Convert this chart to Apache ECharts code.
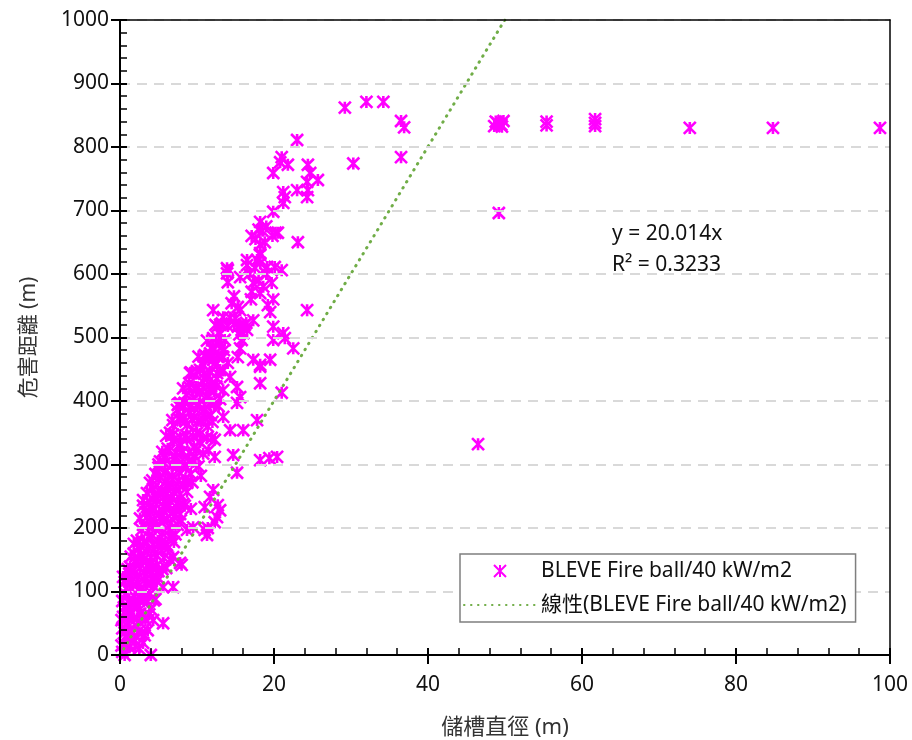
<!DOCTYPE html>
<html>
<head>
<meta charset="utf-8">
<script src="https://cdn.jsdelivr.net/npm/echarts@6/dist/echarts.min.js"></script>
<style>
html,body{margin:0;padding:0;background:#fff;}
#chart{width:912px;height:740px;}
</style>
</head>
<body>
<div id="chart"></div>
<script>
// ---- data: [tank diameter (m), hazard distance (m)] ----
const band0to100 = [
  [0.3,5],[0.6,0],[4,0],[0.5,18],[1.2,12],[0.8,30],[1.8,25],[2.5,10],[0.3,42],[1.3,40],[2.2,45],[2.8,35],[3.6,39],[1.0,50],
  [0.2,55],[0.9,62],[1.8,58],[2.6,65],[3.3,55],[4.3,55],[5.6,50],[0.5,75],[1.4,80],[2.3,78],[3.1,85],[4.0,72],
  [0.8,95],[1.9,92],[2.9,98],[3.8,95],[4.6,88],[1.2,68]
];
const band100to200 = [
  [0.4,123],[1.3,139],[0.8,105],[1.7,110],[2.6,105],[3.5,112],[4.4,108],[5.6,107],[6.9,107],[1.2,128],[2.2,125],
  [3.1,130],[4.0,128],[4.9,122],[2.0,145],[2.9,148],[3.8,142],[4.7,140],[5.5,135],[7.8,145],[6.5,150],
  [6.9,154],[1.8,160],[2.7,158],[3.6,165],[4.5,160],[5.4,165],[6.2,168],[2.2,180],[3.1,178],[4.0,185],[4.9,180],
  [5.8,175],[6.6,185],[2.8,197],[3.7,195],[4.6,198],[5.5,192],[6.4,197],[7.2,190],[8.0,142],
  [8.7,197],[9.5,201],[11.0,197],[11.3,189],[11.4,200]
];
const band200to300 = [
  [12.3,209],[3.0,205],[3.9,210],[4.8,205],[5.7,212],[6.6,208],[7.5,205],[3.3,225],[4.2,228],[5.1,222],[6.0,230],
  [6.9,225],[7.8,222],[3.0,244],[3.9,240],[4.8,245],[5.7,242],[6.6,248],[7.5,240],[8.4,235],[9.2,230],
  [11.0,233],[12.7,236],[13.0,228],[12.6,217],[11.7,249],
  [3.9,271],[4.3,262],[5.2,280],[4.6,285],[5.5,258],[6.4,265],[7.3,260],[8.2,268],[8.7,271],[5.0,295],[5.9,290],
  [6.8,282],[7.7,288],[8.6,295],[6.2,275],[7.5,298],[9.2,285],[10.5,282],[12.1,260],[15.2,287]
];
const band300to450 = [
  [5.8,312],[5.2,305],[6.5,350],[6.2,325],[7.1,310],[8.0,318],[8.9,305],[9.8,312],[6.9,338],[7.8,332],[8.7,340],
  [9.6,328],[10.4,335],[10.0,350],[12.3,312],[12.3,339],[11.5,322],[11.9,342],[14.7,315],[18.2,307],[19.4,310],[20.4,312],
  [7.4,386],[7.5,394],[6.9,362],[7.8,370],[8.7,362],[9.6,375],[10.5,368],[11.4,360],[8.2,390],[9.1,382],[10.0,392],
  [10.9,385],[11.8,378],[12.2,395],[14.3,354],[16.0,354],[17.8,370],[13.4,375],
  [7.8,397],[8.6,410],[9.5,405],[10.4,412],[11.3,406],[12.2,415],[13.0,403],[9.1,444],[9.0,428],[9.9,422],[10.8,430],
  [11.7,425],[12.6,435],[13.0,449],[10.4,449],[11.4,440],[15.2,422],[15.6,406],[18.2,428],[14.3,438],[21.0,413],
  [9.1,391],[11.7,397],[15.2,397]
];
const band450to650 = [
  [11.7,475],[10.6,458],[11.5,465],[12.4,460],[13.3,470],[12.0,485],[12.8,492],[13.5,480],[12.1,499],[11.2,470],
  [14.0,460],[17.3,465],[18.2,457],[19.5,465],[15.6,483],[15.3,469],[15.8,496],[16.0,507],[15.3,517],[17.3,527],
  [19.9,517],[19.9,496],[12.6,517],[13.0,507],[13.4,532],[14.3,531],[12.1,543],[14.5,554],[15.3,548],[15.6,543],
  [19.2,551],[19.5,540],[17.1,572],[18.2,570],[17.3,586],[18.6,580],[19.7,586],[14.0,606],[14.0,587],[15.6,595],
  [16.5,622],[17.8,622],[18.2,633],[16.5,614],[13.9,609],[13.9,601],[19.1,611],[20.1,611],[21.0,606],[18.2,617],
  [18.2,646],[21.2,507],[21.4,499],[22.5,483],[24.3,543],[12.1,480],[12.1,465],[9.3,444],[18.2,454],
  [15.5,505],[16.5,512],[16.2,520],[15.0,530],[17.0,560],[18.0,590],[19.0,600],[16.8,600],[17.5,610],[14.8,565],
  [13.0,520],[12.8,470],[13.2,485],[20.5,665],[19.9,560]
];
const band650up = [
  [18.2,630],[17.1,660],[18.0,670],[19.0,675],[20.2,665],[17.6,655],[18.8,650],[19.8,660],[18.2,682],[18.5,668],
  [23.1,650],[19.9,698],[21.2,712],[21.4,721],[21.2,729],[23.0,732],[24.3,721],[24.4,732],[24.3,745],[25.7,748],
  [24.7,759],[24.4,772],[19.9,759],[20.8,776],[21.0,784],[21.8,772],[23.0,811]
];
// densest part of the cloud (solid-looking magenta mass)
const denseCore = [
  [0.2,15],[1.1,17],[2.0,14],[3.0,19],[0.6,35],[1.5,33],[2.4,37],[3.2,31],
  [0.4,60],[1.3,63],[2.2,58],[3.0,61],[3.8,64],[0.3,85],[1.2,87],[2.0,83],[2.8,88],[3.6,84],[4.4,86],
  [0.6,115],[1.4,117],[2.3,113],[3.2,118],[4.0,114],[4.8,116],[1.0,135],[1.8,133],[2.6,137],[3.4,134],[4.2,136],[5.0,132],[6.0,137],
  [1.4,155],[2.3,152],[3.1,157],[4.0,154],[4.8,156],[5.7,153],[1.8,175],[2.6,172],[3.5,177],[4.3,174],[5.2,176],[6.1,173],[7.0,178],
  [2.6,215],[3.5,217],[4.4,213],[5.2,216],[6.1,214],[7.0,218],[7.9,212],[3.0,235],[3.8,232],[4.7,237],[5.6,234],[6.4,236],[7.3,233],[8.2,238],
  [3.5,255],[4.4,252],[5.2,257],[6.1,254],[7.0,256],[7.8,253],[8.7,257],[4.2,275],[5.0,277],[5.9,273],[6.8,276],[7.6,274],[8.5,278],[9.4,272],
  [5.0,300],[5.8,302],[6.7,298],[7.6,301],[8.4,299],[9.3,303],[10.2,297],[5.5,320],[6.4,322],[7.3,318],[8.1,321],[9.0,319],[9.9,323],[10.8,317],
  [6.0,345],[6.9,347],[7.8,343],[8.6,346],[9.5,344],[10.4,348],[11.3,342],[6.8,370],[7.6,372],[8.5,368],[9.4,371],[10.2,369],[11.1,373],[12.0,367],
  [7.6,395],[8.4,397],[9.3,393],[10.2,396],[11.0,394],[11.9,398],[12.8,392],[8.2,420],[9.0,422],[9.9,418],[10.8,421],[11.6,419],[12.5,423],[13.4,417],
  [9.2,445],[10.0,447],[10.9,443],[11.7,446],[12.6,444],[13.4,448],[10.2,470],[11.0,472],[11.8,468],[12.6,471],[13.4,469],
  [11.3,495],[12.1,497],[12.9,493],[13.6,496],[12.4,520],[13.2,522],[14.0,518],[14.8,521],[15.6,519],[16.4,523]
];
const farPoints = [
  [29.2,862],[32.0,871],[34.2,871],[36.5,841],[36.9,831],[36.5,784],[30.3,774],[46.5,332],[49.2,696],
  [48.6,833],[49.0,838],[49.5,835],[49.8,841],[48.8,840],[49.6,832],
  [55.4,834],[55.4,840],[61.7,833],[61.7,838],[61.7,844],[74.0,830],[84.8,830],[98.7,830]
];
const trendSlope = 20.014;
const rSquared = '0.3233';
const seriesName = 'BLEVE Fire ball/40 kW/m2';
const trendName = '線性(BLEVE Fire ball/40 kW/m2)';
const xTitle = '儲槽直徑 (m)';
const yTitle = '危害距離 (m)';

const allPoints = [].concat(band0to100, band100to200, band200to300, band300to450, band450to650, band650up, denseCore, farPoints);
const yMax = 1000;
const trendLine = [[0, 0], [yMax / trendSlope, yMax]];

const FONT = '"Noto Sans", "Noto Sans CJK TC", sans-serif';
const starPath = 'path://M0,0L10,10M10,0L0,10M5,0L5,10';

const chart = echarts.init(document.getElementById('chart'), null, {renderer: 'canvas'});

const xBase = {type: 'value', min: 0, max: 100, interval: 20};
const yBase = {type: 'value', min: 0, max: 1000, interval: 100};
const frameLine = {show: true, onZero: false, lineStyle: {color: '#000', width: 1.5}};

chart.setOption({
  animation: false,
  backgroundColor: '#fff',
  textStyle: {fontFamily: FONT},
  grid: {left: 120, right: 22, top: 20, bottom: 85, show: false, containLabel: false, outerBoundsMode: 'none'},
  xAxis: [
    Object.assign({}, xBase, {
      position: 'bottom',
      name: xTitle, nameLocation: 'middle', nameGap: 62,
      nameTextStyle: {fontSize: 22, color: '#333', fontFamily: FONT},
      axisLine: {show: true, onZero: false, lineStyle: {color: '#000', width: 2}},
      axisTick: {show: true, inside: false, length: 9, lineStyle: {color: '#000', width: 2}},
      minorTick: {show: false},
      axisLabel: {fontSize: 21, color: '#111', margin: 20, fontFamily: FONT},
      splitLine: {show: false}, z: 5
    }),
    Object.assign({}, xBase, {
      position: 'bottom',
      axisLine: {show: false, onZero: false},
      axisTick: {show: true, inside: true, length: 7, lineStyle: {color: '#000', width: 2}},
      minorTick: {show: true, splitNumber: 5, length: 7, lineStyle: {color: '#000', width: 1.5}},
      axisLabel: {show: false},
      splitLine: {show: false}, z: 5
    }),
    Object.assign({}, xBase, {
      position: 'top',
      axisLine: frameLine, axisTick: {show: false}, axisLabel: {show: false}, splitLine: {show: false}, z: 5
    })
  ],
  yAxis: [
    Object.assign({}, yBase, {
      position: 'left',
      name: yTitle, nameLocation: 'middle', nameGap: 80,
      nameTextStyle: {fontSize: 21, color: '#333', fontFamily: FONT},
      axisLine: {show: true, onZero: false, lineStyle: {color: '#000', width: 2}},
      axisTick: {show: true, inside: false, length: 9, lineStyle: {color: '#000', width: 2}},
      minorTick: {show: false},
      axisLabel: {fontSize: 21, color: '#111', margin: 11, fontFamily: FONT, formatter: (v) => String(v)},
      splitLine: {show: true, lineStyle: {color: '#D9D9D9', width: 2, type: [10, 7]}}, z: 5
    }),
    Object.assign({}, yBase, {
      position: 'left',
      axisLine: {show: false, onZero: false},
      axisTick: {show: true, inside: true, length: 7, lineStyle: {color: '#000', width: 2}},
      minorTick: {show: true, splitNumber: 5, length: 7, lineStyle: {color: '#000', width: 1.5}},
      axisLabel: {show: false},
      splitLine: {show: false}, z: 5
    }),
    Object.assign({}, yBase, {
      position: 'right',
      axisLine: frameLine, axisTick: {show: false}, axisLabel: {show: false}, splitLine: {show: false}, z: 5
    })
  ],
  legend: {
    orient: 'vertical', left: 460, top: 554,
    padding: [4, 9, 4, 3], itemGap: 8,
    itemWidth: 72, itemHeight: 12,
    backgroundColor: '#fff', borderColor: '#7F7F7F', borderWidth: 1.5,
    textStyle: {fontSize: 21, color: '#111', lineHeight: 26, fontFamily: FONT},
    data: [
      {name: seriesName},
      {name: trendName, itemStyle: {color: 'transparent', borderColor: 'transparent', borderWidth: 0}}
    ],
    z: 10
  },
  graphic: [
    {type: 'text', left: 612, top: 224, z: 20, style: {text: 'y = ' + trendSlope.toFixed(3) + 'x', font: '21px ' + FONT, fill: '#111'}},
    {type: 'text', left: 612, top: 255, z: 20, style: {text: 'R² = ' + rSquared, font: '21px ' + FONT, fill: '#111'}}
  ],
  series: [
    {
      name: seriesName, type: 'scatter', xAxisIndex: 0, yAxisIndex: 0,
      data: allPoints, symbol: starPath, symbolSize: 12,
      itemStyle: {color: 'transparent', borderColor: '#FF00FF', borderWidth: 2.6, opacity: 1},
      z: 2
    },
    {
      name: trendName, type: 'line', xAxisIndex: 0, yAxisIndex: 0,
      data: trendLine, symbol: 'none', showSymbol: false,
      lineStyle: {color: '#70AD47', width: 3, type: [0.5, 6.5], cap: 'round'},
      itemStyle: {color: '#70AD47'},
      z: 3
    }
  ]
});
</script>
</body>
</html>
